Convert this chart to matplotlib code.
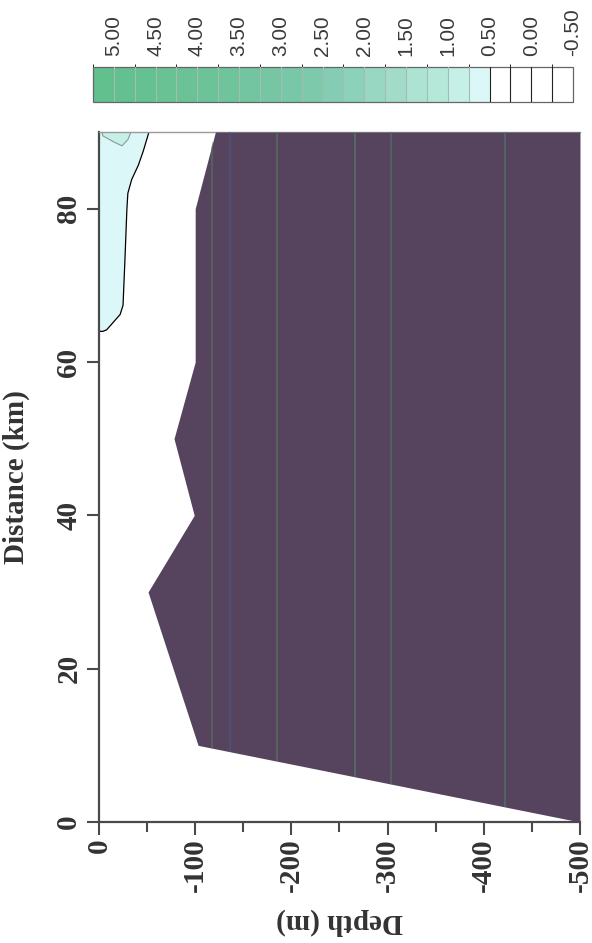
import numpy as np
import matplotlib
matplotlib.use("Agg")
import matplotlib.pyplot as plt
import matplotlib.cm as cm
from matplotlib.colors import ListedColormap, BoundaryNorm

# seabed along the section (distance in km, depth in m)
distance_km = [0, 10, 30, 40, 50, 60, 80, 90]
seabed_m = [-500, -103, -51, -99, -78, -100, -100, -121]

# outline of the 0.5 contour in the shallow water near the end of the section
anom_dist = [64.0, 64.0, 64.2, 66.2, 67.4, 73.4, 79.9, 82.0, 83.8, 85.7, 87.5, 89.6, 90.0]
anom_depth = [0, -4, -8, -22, -25, -27, -29, -30, -34, -41, -46, -51, -52]

# small patch above 0.75 right at the top
core_dist = [90.0, 89.5, 88.6, 88.2, 89.0, 89.6, 90.0]
core_depth = [-3, -4, -17, -24, -30, -32, -33]

# faint depth lines showing through the seabed shading
stripe_depths = [-117, -136, -185, -266, -304, -422]
stripe_colors = ["#55705a", "#4d5585", "#58745c", "#527e5e", "#4f6f66", "#4d756b"]

# colour classes, 0.25 wide, from -0.5 up to 5.25
levels = np.arange(-0.5, 5.26, 0.25)
class_colors = ["#ffffff", "#ffffff", "#ffffff", "#ffffff",
                "#dcf7f7", "#c6efe8", "#b6e8da", "#ade3d2", "#a2dcc9",
                "#98d8c2", "#8cd2bb", "#84cdb4", "#7cc9ac", "#78c7a8",
                "#76c6a4", "#72c5a0", "#70c49c", "#6cc398", "#6ac296",
                "#68c294", "#66c192", "#64c090", "#62bf8e"]
cbar_ticks = [5.0, 4.5, 4.0, 3.5, 3.0, 2.5, 2.0, 1.5, 1.0, 0.5, 0.0, -0.5]

serif = "Liberation Serif"
spine_col = "#4a4a4a"

fig = plt.figure(figsize=(5.92, 9.43), dpi=100)
ax = fig.add_axes([0.1672, 0.1283, 0.8125, 0.7317])

ax.fill(anom_depth + [0, 0], anom_dist + [90, 64], color=class_colors[4], lw=0, zorder=1)
ax.fill(core_depth, core_dist, color=class_colors[5], lw=0, zorder=1)
ax.plot(anom_depth, anom_dist, color="black", lw=0.9, zorder=2)
ax.plot(core_depth, core_dist, color="#8a9a9a", lw=0.8, zorder=2)

seabed = ax.fill_betweenx(distance_km, seabed_m, -500, color="#56445f", lw=0, zorder=3)
stripes = ax.vlines(stripe_depths, 0, 90, colors=stripe_colors, lw=1.3, alpha=0.7, zorder=4)
stripes.set_clip_path(seabed.get_paths()[0], ax.transData)

ax.set_xlim(0, -500)
ax.set_ylim(0, 90)

ax.set_xticks([0, -100, -200, -300, -400, -500])
ax.set_xticklabels(["0", "-100", "-200", "-300", "-400", "-500"])
ax.set_xticks([-50, -150, -250, -350, -450], minor=True)
ax.set_yticks([0, 20, 40, 60, 80])

for lab in ax.get_xticklabels() + ax.get_yticklabels():
    lab.set_fontfamily(serif)
    lab.set_fontweight("bold")
    lab.set_fontsize(21)
    lab.set_rotation(90)
    lab.set_color("#333333")

ax.tick_params(axis="x", which="major", direction="out", length=9, width=1.5,
               color=spine_col, pad=3)
ax.tick_params(axis="x", which="minor", direction="out", length=7, width=1.5,
               color=spine_col)
ax.tick_params(axis="y", direction="out", length=9, width=1.5, color=spine_col, pad=3)
for lab in ax.get_yticklabels():
    lab.set_verticalalignment("center")

ax.spines["left"].set_color(spine_col)
ax.spines["bottom"].set_color(spine_col)
ax.spines["left"].set_linewidth(1.6)
ax.spines["bottom"].set_linewidth(1.6)
ax.spines["top"].set_color("#9a9a9a")
ax.spines["top"].set_linewidth(1.0)
ax.spines["right"].set_visible(False)

ax.set_ylabel("Distance (km)", fontfamily=serif, fontweight="bold", fontsize=21,
              color="#333333", rotation=90)
ax.yaxis.set_label_coords(-0.143, 0.5)
ax.set_xlabel("Depth (m)", fontfamily=serif, fontweight="bold", fontsize=21,
              color="#333333", rotation=180, va="center", ha="center")
ax.xaxis.set_label_coords(0.5, -0.145)

# colour scale along the top, high values on the left
cax = fig.add_axes([0.157, 0.8918, 0.811, 0.0371])
cmap = ListedColormap(class_colors)
norm = BoundaryNorm(levels, cmap.N)
cb = fig.colorbar(cm.ScalarMappable(norm=norm, cmap=cmap), cax=cax,
                  orientation="horizontal", ticks=cbar_ticks)
cb.outline.set_edgecolor("#666666")
cb.outline.set_linewidth(0.9)
cax.invert_xaxis()
for lv in levels[1:-1]:
    edge = "#222222" if lv <= 0.5 else "#a3bdb0"
    cax.axvline(lv, color=edge, lw=0.8, zorder=5)
cax.xaxis.set_ticks_position("top")
cax.set_xticks(cbar_ticks)
cax.set_xticklabels([f"{v:.2f}" for v in cbar_ticks], rotation=90,
                    fontfamily="Liberation Sans", fontsize=15, color="#3a3a3a")
cax.tick_params(axis="x", length=0, pad=8)

fig.savefig("out.png", dpi=100)
